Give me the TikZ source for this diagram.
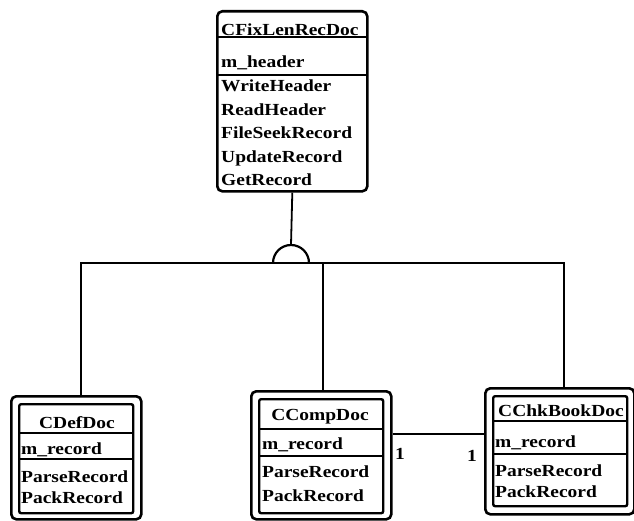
\documentclass[tikz,border=0pt]{standalone}
\usepackage{fontspec}
\setmainfont{Liberation Serif}
\newfontfamily\umlface[FakeStretch=1.15]{Liberation Serif}
\newcommand\umlfont{\umlface\bfseries\fontsize{17}{17}\selectfont}
\begin{document}
\begin{tikzpicture}[x=1bp,y=-1bp,
  classframe/.style={draw, line width=2.6bp, rounded corners=5bp, inner sep=0pt, anchor=north west},
  innerframe/.style={draw, line width=2.4bp, rounded corners=2bp, inner sep=0pt, anchor=north west},
  divider/.style={line width=1.7bp},
  link/.style={line width=1.8bp},
  member/.style={anchor=base west, inner sep=0pt, font=\umlfont},
  title/.style={anchor=base, inner sep=0pt, font=\umlfont},
  mult/.style={anchor=base, inner sep=0pt, font=\umlfont}]
\useasboundingbox (0,0) rectangle (634,521);

% ---------------- base class ----------------
\node[classframe, minimum width=150bp, minimum height=180bp] (base) at (216,10) {};
\draw[divider] (216,37) -- (366,37);
\draw[divider] (216,75) -- (366,75);
\node[member] (bname) at (221,36) {CFixLenRecDoc};
\node[member] (battr) at (221,68) {m\_header};
\node[member] (bm1) at (221,92) {WriteHeader};
\node[member] (bm2) at (221,115.5) {ReadHeader};
\node[member] (bm3) at (221,139) {FileSeekRecord};
\node[member] (bm4) at (221,162.5) {UpdateRecord};
\node[member] (bm5) at (221,186) {GetRecord};

% ---------------- CDefDoc ----------------
\node[classframe, minimum width=130bp, minimum height=123bp] (defdoc) at (10,395) {};
\node[innerframe, minimum width=114bp, minimum height=109bp] (defin) at (18,403) {};
\draw[divider] (18,433) -- (132,433);
\draw[divider] (18,459) -- (132,459);
\node[title] (dname) at (77,428) {CDefDoc};
\node[member] (dattr) at (21,454) {m\_record};
\node[member] (dm1) at (21,482) {ParseRecord};
\node[member] (dm2) at (21,503) {PackRecord};

% ---------------- CCompDoc ----------------
\node[classframe, minimum width=140bp, minimum height=128bp] (comp) at (250,390) {};
\node[innerframe, minimum width=124bp, minimum height=114bp] (compin) at (258,398) {};
\draw[divider] (258,429) -- (382,429);
\draw[divider] (258,456) -- (382,456);
\node[title] (cname) at (320,420) {CCompDoc};
\node[member] (cattr) at (262,449) {m\_record};
\node[member] (cm1) at (262,477) {ParseRecord};
\node[member] (cm2) at (262,501) {PackRecord};

% ---------------- CChkBookDoc ----------------
\node[classframe, minimum width=149bp, minimum height=126bp] (chk) at (484,387) {};
\node[innerframe, minimum width=134bp, minimum height=110bp] (chkin) at (492,395) {};
\draw[divider] (492,421) -- (626,421);
\draw[divider] (492,454) -- (626,454);
\node[title] (kname) at (561,416) {CChkBookDoc};
\node[member] (kattr) at (495,447) {m\_record};
\node[member] (km1) at (495,476) {ParseRecord};
\node[member] (km2) at (495,497) {PackRecord};

% ---------------- generalization ----------------
\coordinate (hub) at (291,263);
\coordinate (hubtop) at (291,245);
\draw[link] (base.south) -- (hubtop);
\draw[link, line width=2.2bp] (hub) ++(-18,0) arc (180:360:18);
\draw[link] ([xshift=5bp]defdoc.north) |- (hub) -| ([xshift=4.5bp]chk.north);
\draw[link] ([xshift=2bp]comp.north) -- ([xshift=2bp]comp.north |- hub);

% ---------------- association ----------------
\coordinate (assoc) at (437,434);
\draw[link] (comp.east |- assoc) -- (chk.west |- assoc);
\node[mult] (m1) at (400,459) {1};
\node[mult] (m2) at (472,461) {1};
\end{tikzpicture}
\end{document}
